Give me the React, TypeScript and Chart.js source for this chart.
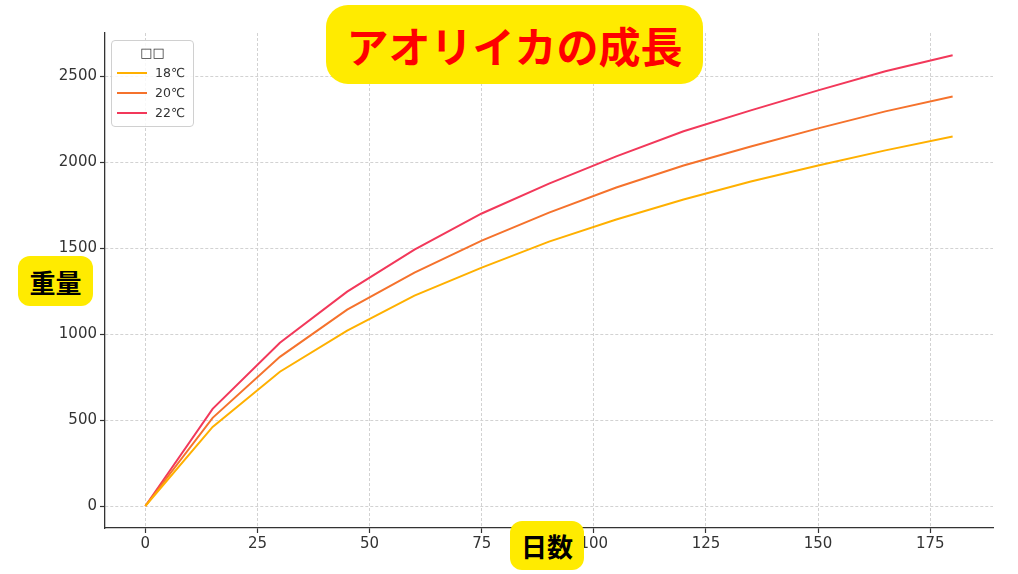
import React, { useEffect, useRef } from "react";
import { Chart, registerables } from "chart.js";

Chart.register(...registerables);

const days = [0, 15, 30, 45, 60, 75, 90, 105, 120, 135, 150, 165, 180];
const weight18 = [0, 460, 781, 1020, 1224, 1387, 1538, 1667, 1783, 1888, 1981, 2069, 2150];
const weight20 = [0, 513, 868, 1142, 1358, 1544, 1707, 1853, 1981, 2092, 2197, 2296, 2383];
const weight22 = [0, 565, 950, 1247, 1492, 1702, 1876, 2034, 2180, 2302, 2418, 2529, 2622];
const seriesLabels = ["18℃", "20℃", "22℃"];
const seriesColors = ["#FFB000", "#F5722C", "#F2385A"];
const xTicks = [0, 25, 50, 75, 100, 125, 150, 175];
const yTicks = [0, 500, 1000, 1500, 2000, 2500];
const titleText = "アオリイカの成長";
const xLabel = "日数";
const yLabel = "重量";
const legendTitle = "□□";

export default function App() {
  const canvasRef = useRef<HTMLCanvasElement | null>(null);

  useEffect(() => {
    const series = [weight18, weight20, weight22];
    const gridOpts = {
      color: "#d2d2d2",
      lineWidth: 1,
      tickColor: "#333",
      tickLength: 5,
      tickWidth: 1.2,
      tickBorderDash: [] as number[],
    };
    const chart = new Chart(canvasRef.current as HTMLCanvasElement, {
      type: "line",
      data: {
        datasets: series.map((s, i) => ({
          label: seriesLabels[i],
          data: days.map((d, j) => ({ x: d, y: s[j] })),
          borderColor: seriesColors[i],
          backgroundColor: seriesColors[i],
          borderWidth: 2,
          pointRadius: 0,
          tension: 0,
          fill: false,
        })),
      },
      options: {
        animation: false,
        responsive: false,
        maintainAspectRatio: false,
        layout: { padding: { top: 33, right: 25, left: 0, bottom: 0 } },
        plugins: { legend: { display: false }, tooltip: { enabled: false }, title: { display: false } },
        scales: {
          x: {
            type: "linear",
            min: -9,
            max: 189,
            afterBuildTicks: (axis: any) => {
              axis.ticks = xTicks.map((v) => ({ value: v }));
            },
            afterFit: (scale: any) => {
              scale.height = 46;
            },
            grid: gridOpts,
            border: { display: true, color: "#333", width: 1.3, dash: [3, 2] },
            ticks: {
              color: "#333",
              font: { family: "DejaVu Sans", size: 15 },
              padding: 2,
              maxRotation: 0,
              callback: (v: any) => String(v),
            },
          },
          y: {
            type: "linear",
            min: -128,
            max: 2752,
            afterBuildTicks: (axis: any) => {
              axis.ticks = yTicks.map((v) => ({ value: v }));
            },
            afterFit: (scale: any) => {
              scale.width = 105;
            },
            grid: gridOpts,
            border: { display: true, color: "#333", width: 1.3, dash: [3, 2] },
            ticks: {
              color: "#333",
              font: { family: "DejaVu Sans", size: 15 },
              padding: 3,
              callback: (v: any) => String(v),
            },
          },
        },
      },
    });
    return () => chart.destroy();
  }, []);

  const boxStyle: React.CSSProperties = {
    position: "absolute",
    background: "#FFEB00",
    display: "flex",
    alignItems: "center",
    justifyContent: "center",
    fontFamily: "'Noto Sans CJK JP', sans-serif",
    fontWeight: 700,
  };

  return (
    <div style={{ position: "fixed", left: 0, top: 0, width: 1018, height: 574, background: "#fff", overflow: "hidden" }}>
      <canvas ref={canvasRef} width={1018} height={574} style={{ position: "absolute", left: 0, top: 0, width: 1018, height: 574 }} />
      <div
        style={{
          position: "absolute",
          left: 111,
          top: 40,
          width: 81,
          height: 85,
          border: "1px solid #d0d0d0",
          borderRadius: 4,
          background: "rgba(255,255,255,0.85)",
          fontFamily: "'DejaVu Sans', sans-serif",
          color: "#333",
        }}
      >
        <div style={{ position: "absolute", left: 0, width: 81, top: 4, textAlign: "center", fontSize: 13, lineHeight: "16px" }}>{legendTitle}</div>
        {seriesLabels.map((l, i) => (
          <div key={l} style={{ position: "absolute", left: 5, top: 24 + i * 20, height: 16, display: "flex", alignItems: "center" }}>
            <div style={{ width: 30, height: 2, background: seriesColors[i] }} />
            <div style={{ marginLeft: 8, fontSize: 12.5, lineHeight: "16px" }}>{l}</div>
          </div>
        ))}
      </div>
      <div style={{ ...boxStyle, left: 326, top: 5, width: 377, height: 79, borderRadius: 22, color: "#FF0000", fontSize: 42 }}>{titleText}</div>
      <div style={{ ...boxStyle, left: 18, top: 256, width: 75, height: 50, borderRadius: 12, color: "#000", fontSize: 26 }}>{yLabel}</div>
      <div style={{ ...boxStyle, left: 510, top: 521, width: 74, height: 49, borderRadius: 12, color: "#000", fontSize: 26 }}>{xLabel}</div>
    </div>
  );
}
